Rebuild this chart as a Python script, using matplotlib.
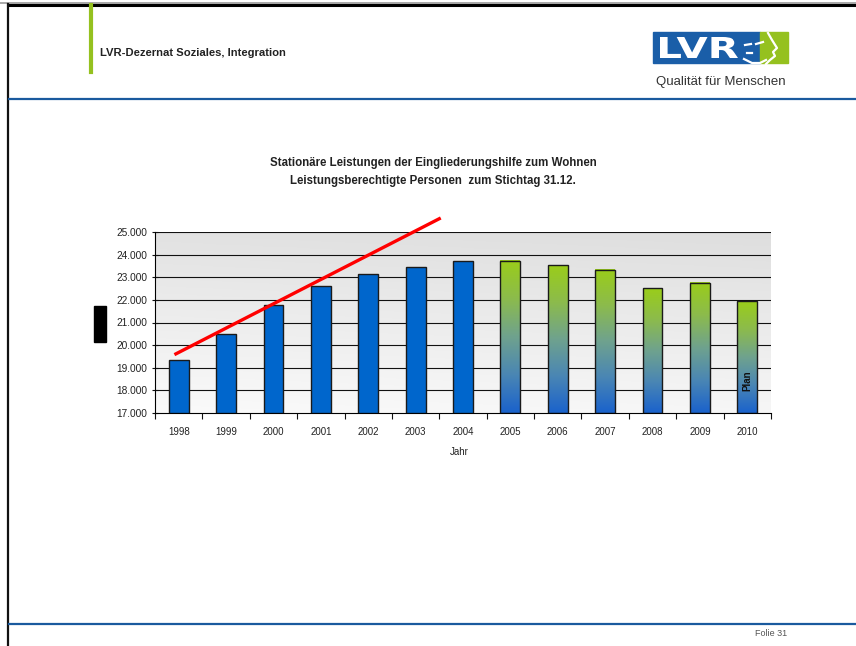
import numpy as np
import matplotlib
matplotlib.use("Agg")
import matplotlib.pyplot as plt
from matplotlib.colors import LinearSegmentedColormap
from matplotlib.patches import Rectangle, PathPatch
from matplotlib.lines import Line2D
from matplotlib.textpath import TextPath
from matplotlib.font_manager import FontProperties
from matplotlib.transforms import Affine2D

# Daten: leistungsberechtigte Personen zum Stichtag 31.12.
years = ["1998", "1999", "2000", "2001", "2002", "2003", "2004",
         "2005", "2006", "2007", "2008", "2009", "2010"]
persons = [19340, 20470, 21790, 22600, 23130, 23450, 23730,
           23730, 23540, 23340, 22520, 22750, 21940]
gradient_from = "2005"   # ab hier Verlauf gruen -> blau

# roter Trendpfeil (Index auf der x-Achse, Personen)
trend_x = [-0.09, 5.53]
trend_y = [19580, 25620]

ytick_vals = [17000, 18000, 19000, 20000, 21000, 22000, 23000, 24000, 25000]
ytick_labels = ["17.000", "18.000", "19.000", "20.000", "21.000",
                "22.000", "23.000", "24.000", "25.000"]

title1 = "Stationäre Leistungen der Eingliederungshilfe zum Wohnen"
title2 = "Leistungsberechtigte Personen  zum Stichtag 31.12."

plt.rcParams["font.family"] = ["Liberation Sans", "DejaVu Sans"]

W, H = 856, 646
fig = plt.figure(figsize=(W / 100, H / 100), dpi=100)


def fx(x):
    return x / W


def fy(y):
    return 1 - y / H


def fline(xs, ys, **kw):
    fig.add_artist(Line2D([fx(v) for v in xs], [fy(v) for v in ys],
                          transform=fig.transFigure, **kw))


# --- Folienrahmen ---
fline([0, W], [2.5, 2.5], color="#9a9a9a", lw=1.2)
fline([8, W], [5, 5], color="black", lw=2.2)
fline([8, 8], [4, H], color="#111111", lw=1.6)
fline([9, W], [99, 99], color="#1a5a9e", lw=1.6)
fline([9, W], [623.5, 623.5], color="#1a5a9e", lw=1.6)
fline([91, 91], [5, 72], color="#95c11f", lw=3)

fig.text(fx(100), fy(53), "LVR-Dezernat Soziales, Integration",
         fontsize=8.1, fontweight="bold", va="center", ha="left",
         color="#222222")

# Logo
fig.add_artist(Rectangle((fx(653), fy(63)), fx(760) - fx(653), fy(32) - fy(63),
                         transform=fig.transFigure, color="#1a5ea8"))
fig.add_artist(Rectangle((fx(760), fy(63)), fx(788) - fx(760), fy(32) - fy(63),
                         transform=fig.transFigure, color="#95c11f"))
tp = TextPath((0, 0), "LVR", size=1,
              prop=FontProperties(family="DejaVu Sans", weight="bold"))
bb = tp.get_extents()
x0, x1, y0, y1 = 660, 738, 37, 58
tr = (Affine2D().translate(-bb.x0, -bb.y0)
      .scale((fx(x1) - fx(x0)) / bb.width, (fy(y0) - fy(y1)) / bb.height)
      .translate(fx(x0), fy(y1)))
fig.add_artist(PathPatch(tr.transform_path(tp), color="white", lw=0,
                         transform=fig.transFigure))
fline([745, 751], [45, 44], color="white", lw=1.6)
fline([756, 763], [44, 42], color="white", lw=1.6)
fline([747, 752], [53, 53], color="white", lw=1.6)
fline([768, 772, 777, 773, 775, 770, 766], [33, 40, 48, 52, 56, 60, 64],
      color="white", lw=1.6)
fline([744, 752, 760, 766], [59, 63, 63, 60], color="white", lw=1.6)
fig.text(fx(721), fy(82), "Qualität für Menschen", fontsize=9.5,
         ha="center", va="center", color="#333333")

fig.add_artist(Rectangle((fx(94), fy(342)), fx(106) - fx(94), fy(306) - fy(342),
                         transform=fig.transFigure, color="black"))

fig.text(fx(771), fy(634), "Folie 31", fontsize=6.5, ha="center",
         va="center", color="#555555")

# --- Titel ---
fig.text(fx(433), fy(163), title1, fontsize=8.3, fontweight="bold",
         ha="center", va="center", color="#222222")
fig.text(fx(433), fy(181), title2, fontsize=8.3, fontweight="bold",
         ha="center", va="center", color="#222222")

# --- Diagramm ---
ax = fig.add_axes([fx(155), fy(413), fx(771) - fx(155), fy(232) - fy(413)])
x = np.arange(len(years))
xlim = (-0.5, len(years) - 0.5)
ylim = (17000, 25000)

bg = LinearSegmentedColormap.from_list("bg", ["#fafafa", "#dedede"])
grad = np.linspace(0, 1, 256).reshape(-1, 1)
grad2 = grad + 0.15 * np.linspace(0, 1, 64).reshape(1, -1)
ax.imshow(grad2, extent=[xlim[0], xlim[1], ylim[0], ylim[1]], origin="lower",
          aspect="auto", cmap=bg, zorder=0, vmin=0, vmax=1.15)

bar_cmap = LinearSegmentedColormap.from_list(
    "gb", ["#1a62cc", "#4a86b4", "#6fa28e", "#8cbb4c", "#9acd1a"])
w = 0.42
start = years.index(gradient_from)
for i, (xi, v) in enumerate(zip(x, persons)):
    if i < start:
        ax.bar(xi, v - ylim[0], bottom=ylim[0], width=w, color="#0066cc",
               edgecolor="#1a1a1a", linewidth=1.0, zorder=3)
    else:
        ax.imshow(grad, extent=[xi - w / 2, xi + w / 2, ylim[0], v],
                  origin="lower", aspect="auto", cmap=bar_cmap, zorder=2)
        ax.bar(xi, v - ylim[0], bottom=ylim[0], width=w, facecolor="none",
               edgecolor="#1a1a1a", linewidth=1.0, zorder=3)

ax.text(x[-1], 18420, "Plan", rotation=90, ha="center", va="center",
        fontsize=7, fontweight="bold", color="#111111", zorder=4)

ax.plot(trend_x, trend_y, color="#ff0000", lw=2.4, clip_on=False, zorder=5,
        solid_capstyle="butt")

ax.set_xlim(*xlim)
ax.set_ylim(*ylim)
ax.set_yticks(ytick_vals)
ax.set_yticklabels(ytick_labels)
ax.set_xticks(x)
ax.set_xticklabels(years)
ax.set_xticks(np.arange(len(years) + 1) - 0.5, minor=True)
ax.tick_params(axis="x", which="major", length=0, pad=10, labelsize=7,
               labelcolor="#222222")
ax.tick_params(axis="x", which="minor", length=4, direction="out",
               width=0.8, color="#111111")
ax.tick_params(axis="y", length=5, direction="inout", width=0.8, pad=3,
               labelsize=7.3, labelcolor="#222222", color="#111111")

for yv in ytick_vals[1:]:
    ax.axhline(yv, color="#111111", lw=0.8, zorder=1)

for side in ["top", "right"]:
    ax.spines[side].set_visible(False)
ax.spines["left"].set_linewidth(0.8)
ax.spines["bottom"].set_linewidth(0.8)

fig.text(fx(459), fy(452), "Jahr", fontsize=7, ha="center", va="center",
         color="#222222")

fig.savefig("out.png", dpi=100)
